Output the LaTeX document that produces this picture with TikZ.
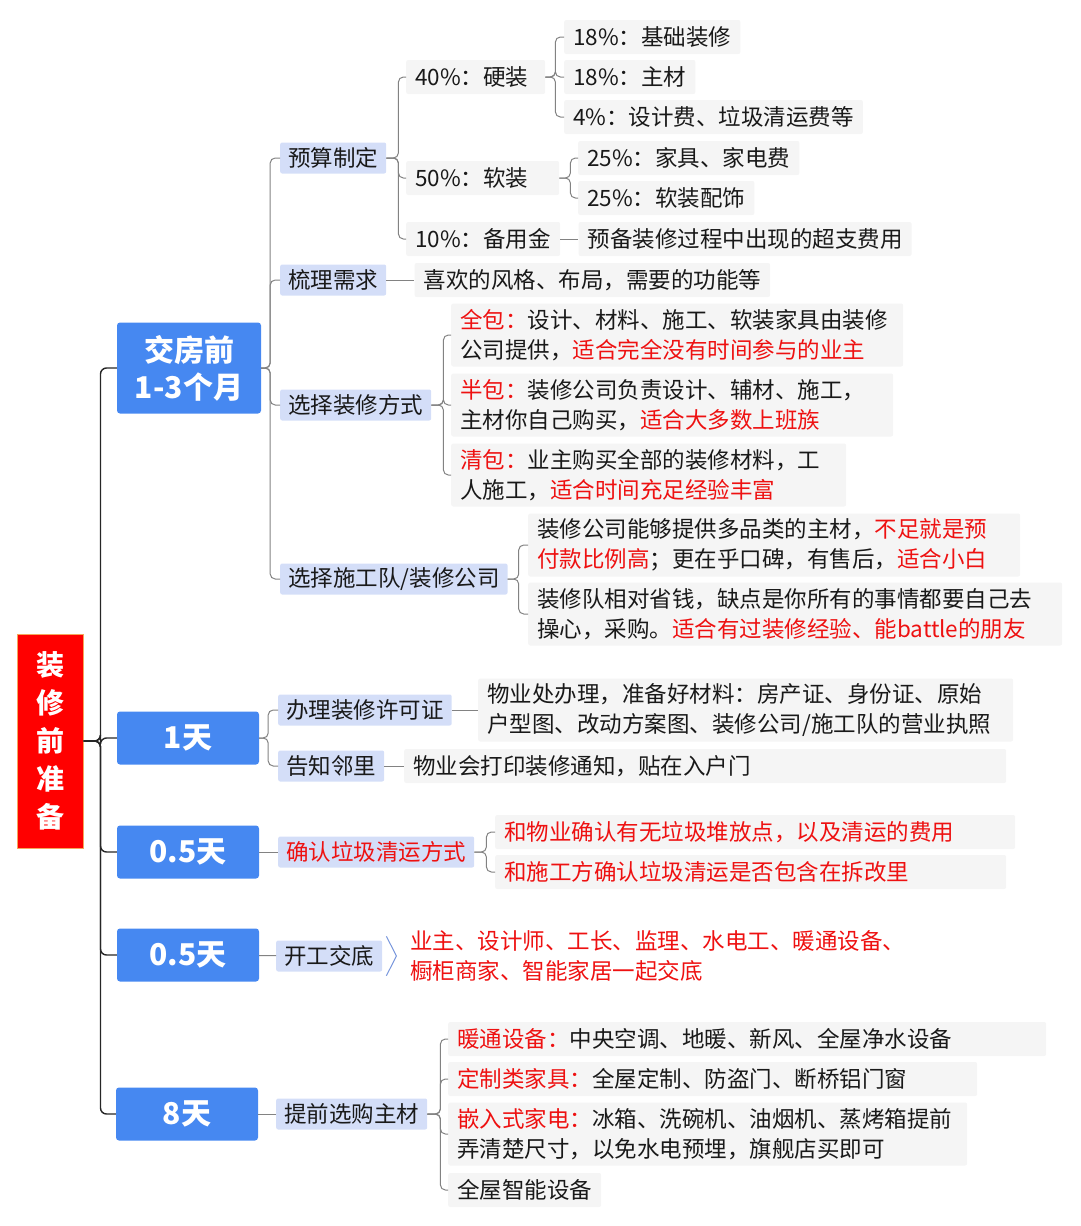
\documentclass[tikz,border=0pt]{standalone}
\usepackage{fontspec}
\setmainfont{Noto Sans CJK SC}
\usetikzlibrary{positioning}

\definecolor{rootred}{RGB}{255,0,0}
\definecolor{rootedge}{RGB}{245,166,90}
\definecolor{stageblue}{RGB}{70,136,241}
\definecolor{tagfill}{RGB}{212,222,248}
\definecolor{leaffill}{RGB}{245,245,245}
\definecolor{hlred}{RGB}{238,17,17}
\definecolor{linegray}{RGB}{130,130,130}
\definecolor{chevblue}{RGB}{120,150,220}
\definecolor{inkblack}{RGB}{25,25,25}
\newcommand{\redpart}[1]{\textcolor{hlred}{#1}}

\begin{document}
\begin{tikzpicture}[x=1pt, y=-1pt,
    trunk/.style={draw=black!85, line width=1.4pt, rounded corners=6pt},
    link/.style={draw=linegray, line width=1pt, rounded corners=5pt},
    chev/.style={draw=chevblue, line width=1pt},
    rootbox/.style={draw=rootedge, line width=1pt, fill=rootred, text=white,
                    font=\bfseries\fontsize{28}{38}\selectfont, align=center,
                    minimum width=66pt, minimum height=214pt, inner sep=0pt},
    stage/.style={fill=stageblue, rounded corners=3pt, text=white,
                  font=\bfseries\fontsize{30}{37}\selectfont, align=center,
                  minimum width=142pt, minimum height=53pt, inner sep=0pt},
    tag/.style={fill=tagfill, rounded corners=2pt, text=inkblack, anchor=west,
                font=\fontsize{22.5}{30}\selectfont,
                minimum height=31pt, inner xsep=8pt, inner ysep=0pt},
    leaf/.style={fill=leaffill, rounded corners=2pt, text=inkblack, anchor=west,
                 font=\fontsize{22.5}{30}\selectfont, align=left,
                 minimum height=34pt, inner xsep=9pt, inner ysep=0pt},
    twoline/.style={minimum height=63pt}
  ]
  \useasboundingbox (0,0) rectangle (1080,1226);

  % root and stages
  \node[rootbox] (root) at (50,741) {装\\修\\前\\准\\备};
  \node[stage, minimum height=91pt, minimum width=144pt] (s1) at (189,368) {交房前\\1-3个月};
  \node[stage] (s2) at (188,738) {1天};
  \node[stage] (s3) at (188,852) {0.5天};
  \node[stage] (s4) at (188,955) {0.5天};
  \node[stage] (s5) at (187,1114) {8天};
  \foreach \s in {s1,s2,s3,s4,s5}
    \draw[trunk] (root.east) -- ++(17,0) |- (\s.west);

  % stage 1
  \node[tag] (ys) at (280,158) {预算制定};
  \node[tag] (sl) at (280,280) {梳理需求};
  \node[tag] (fs) at (280,405) {选择装修方式};
  \node[tag] (sg) at (280,579) {选择施工队/装修公司};
  \foreach \t in {ys,sl,fs,sg}
    \draw[link] (s1.east) -- ++(9,0) |- (\t.west);

  \node[leaf, text width=121pt] (yj40) at (406,77) {40\%：硬装};
  \node[leaf, text width=135pt] (yj50) at (406,178) {50\%：软装};
  \node[leaf, text width=136pt] (yj10) at (406,239) {10\%：备用金};
  \foreach \t in {yj40,yj50,yj10}
    \draw[link] (ys.east) -- ++(12,0) |- (\t.west);

  \node[leaf] (h1) at (564,37) {18\%：基础装修};
  \node[leaf] (h2) at (564,77) {18\%：主材};
  \node[leaf] (h3) at (564,117) {4\%：设计费、垃圾清运费等};
  \foreach \t in {h1,h2,h3}
    \draw[link] (yj40.east) -- ++(10,0) |- (\t.west);

  \node[leaf] (r1) at (578,158) {25\%：家具、家电费};
  \node[leaf] (r2) at (578,198) {25\%：软装配饰};
  \foreach \t in {r1,r2}
    \draw[link] (yj50.east) -- ++(11,0) |- (\t.west);

  \node[leaf, right=18pt of yj10] (bj) {预备装修过程中出现的超支费用};
  \draw[link] (yj10) -- (bj);

  \node[leaf, right=28pt of sl] (slx) {喜欢的风格、布局，需要的功能等};
  \draw[link] (sl) -- (slx);

  \node[leaf, twoline, text width=434pt] (qb) at (451,335)
    {\redpart{全包：}设计、材料、施工、软装家具由装修\\公司提供，\redpart{适合完全没有时间参与的业主}};
  \node[leaf, twoline, text width=424pt] (bb) at (451,405)
    {\redpart{半包：}装修公司负责设计、辅材、施工，\\主材你自己购买，\redpart{适合大多数上班族}};
  \node[leaf, twoline, text width=377pt] (cb) at (451,475)
    {\redpart{清包：}业主购买全部的装修材料，工\\人施工，\redpart{适合时间充足经验丰富}};
  \foreach \t in {qb,bb,cb}
    \draw[link] (fs.east) -- ++(12,0) |- (\t.west);

  \node[leaf, twoline, text width=474pt] (gs) at (528,545)
    {装修公司能够提供多品类的主材，\redpart{不足就是预}\\\redpart{付款比例高}；更在乎口碑，有售后，\redpart{适合小白}};
  \node[leaf, twoline, text width=516pt] (zxd) at (528,614)
    {装修队相对省钱，缺点是你所有的事情都要自己去\\操心，采购。\redpart{适合有过装修经验、能battle的朋友}};
  \foreach \t in {gs,zxd}
    \draw[link] (sg.east) -- ++(11,0) |- (\t.west);

  % stage 2
  \node[tag] (xk) at (278,710) {办理装修许可证};
  \node[tag] (gz) at (278,766) {告知邻里};
  \foreach \t in {xk,gz}
    \draw[link] (s2.east) -- ++(9,0) |- (\t.west);
  \node[leaf, twoline, text width=517pt] (xkx) at (478,710)
    {物业处办理，准备好材料：房产证、身份证、原始\\户型图、改动方案图、装修公司/施工队的营业执照};
  \draw[link] (xk) -- (xkx);
  \node[leaf, text width=584pt] (gzx) at (404,766) {物业会打印装修通知，贴在入户门};
  \draw[link] (gz) -- (gzx);

  % stage 3
  \node[tag, text=hlred] (lj) at (278,852) {确认垃圾清运方式};
  \draw[link] (s3) -- (lj);
  \node[leaf, text=hlred, text width=502pt] (lj1) at (495,832) {和物业确认有无垃圾堆放点，以及清运的费用};
  \node[leaf, text=hlred, text width=493pt] (lj2) at (495,872) {和施工方确认垃圾清运是否包含在拆改里};
  \foreach \t in {lj1,lj2}
    \draw[link] (lj.east) -- ++(12,0) |- (\t.west);

  % stage 4
  \node[tag] (kg) at (276,956) {开工交底};
  \draw[link] (s4) -- (kg);
  \draw[chev] ([xshift=4pt,yshift=4pt]kg.north east) -- ([xshift=14pt]kg.east)
    -- ([xshift=4pt,yshift=-4pt]kg.south east);
  \node[anchor=west, text=hlred, font=\fontsize{22.5}{30}\selectfont, align=left, inner sep=0pt] (kgx)
    at (410,956) {业主、设计师、工长、监理、水电工、暖通设备、\\橱柜商家、智能家居一起交底};

  % stage 5
  \node[tag] (zc) at (276,1114) {提前选购主材};
  \draw[link] (s5) -- (zc);
  \node[leaf, text width=580pt] (zc1) at (448,1039) {\redpart{暖通设备：}中央空调、地暖、新风、全屋净水设备};
  \node[leaf, text width=511pt] (zc2) at (448,1079) {\redpart{定制类家具：}全屋定制、防盗门、断桥铝门窗};
  \node[leaf, twoline, text width=501pt] (zc3) at (448,1134)
    {\redpart{嵌入式家电：}冰箱、洗碗机、油烟机、蒸烤箱提前\\弄清楚尺寸，以免水电预埋，旗舰店买即可};
  \node[leaf] (zc4) at (448,1190) {全屋智能设备};
  \foreach \t in {zc1,zc2,zc3,zc4}
    \draw[link] (zc.east) -- ++(13,0) |- (\t.west);
\end{tikzpicture}
\end{document}
